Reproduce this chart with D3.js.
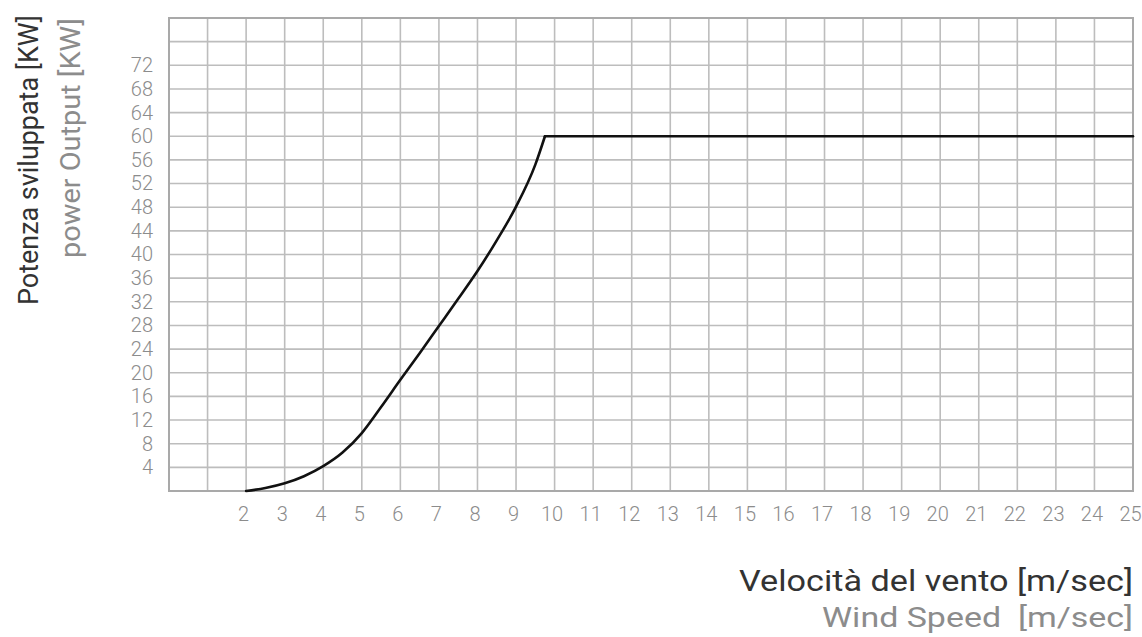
<!DOCTYPE html>
<html>
<head>
<meta charset="utf-8">
<script src="https://cdn.jsdelivr.net/npm/d3@7"></script>
<style>
  html, body { margin: 0; padding: 0; background: #ffffff; }
  svg { display: block; }
</style>
</head>
<body>
<svg id="chart" width="1142" height="637"></svg>
<script>
// ---- data ----
const windSpeed = [2, 2.5, 3, 3.5, 4, 4.5, 5, 5.5, 6, 6.5, 7, 7.5, 8, 8.5, 9, 9.5, 9.75, 25];
const power     = [0, 0.5, 1.3, 2.5, 4.2, 6.5, 9.8, 14.2, 18.8, 23.3, 27.9, 32.5, 37.2, 42.4, 48.1, 55.2, 60, 60];
const xTickLabels = [2,3,4,5,6,7,8,9,10,11,12,13,14,15,16,17,18,19,20,21,22,23,24,25];
const yTickLabels = [4,8,12,16,20,24,28,32,36,40,44,48,52,56,60,64,68,72];
const xGrid = d3.range(0, 26, 1);
const yGrid = d3.range(0, 81, 4);
const yTitle = "Potenza sviluppata [KW]";
const yTitle2 = "power Output [KW]";
const xTitle = "Velocità del vento [m/sec]";
const xTitle2 = "Wind Speed  [m/sec]";

// ---- layout ----
const L = 169, R = 1133, T = 18, B = 491;
const svg = d3.select("#chart");

const x = d3.scaleLinear().domain([0, 25]).range([L, R]);
const y = d3.scaleLinear().domain([0, 80]).range([B, T]);

const gridColor = "#bdbdbd";
const tickColor = "#8c8c8c";
const darkColor = "#333333";
const font = "Roboto, 'Open Sans', sans-serif";

// grid
const grid = svg.append("g");
grid.selectAll("line.v").data(xGrid).join("line")
  .attr("x1", d => x(d)).attr("x2", d => x(d))
  .attr("y1", T).attr("y2", B)
  .attr("stroke", gridColor).attr("stroke-width", 1.6);
grid.selectAll("line.h").data(yGrid).join("line")
  .attr("y1", d => y(d)).attr("y2", d => y(d))
  .attr("x1", L).attr("x2", R)
  .attr("stroke", gridColor).attr("stroke-width", 1.6);
// border
svg.append("rect").attr("x", L).attr("y", T).attr("width", R - L).attr("height", B - T)
  .attr("fill", "none").attr("stroke", "#a9a9a9").attr("stroke-width", 2);

// x axis labels
const xAxis = d3.axisBottom(x).tickValues(xTickLabels).tickSize(0).tickPadding(0)
  .tickFormat(d3.format("d"));
const gx = svg.append("g").attr("transform", `translate(0,${B})`).call(xAxis);
gx.select(".domain").remove();
gx.selectAll("text")
  .attr("y", 30).attr("dy", 0).attr("dx", -3)
  .attr("fill", tickColor)
  .style("font-family", font).style("font-weight", 300).style("font-size", "20px");

// y axis labels
const yAxis = d3.axisLeft(y).tickValues(yTickLabels).tickSize(0).tickPadding(16)
  .tickFormat(d3.format("d"));
const gy = svg.append("g").attr("transform", `translate(${L},0)`).call(yAxis);
gy.select(".domain").remove();
gy.selectAll("text")
  .attr("fill", tickColor)
  .style("font-family", font).style("font-weight", 300).style("font-size", "20px");

// power curve: rising part smoothed, rated-power plateau straight
const pts = windSpeed.map((w, i) => [w, power[i]]);
const ratedIdx = power.indexOf(d3.max(power));
const rising = pts.slice(0, ratedIdx + 1);
const plateau = pts.slice(ratedIdx);
const curveLine = d3.line().x(d => x(d[0])).y(d => y(d[1])).curve(d3.curveMonotoneX);
const flatLine = d3.line().x(d => x(d[0])).y(d => y(d[1]));
const lineG = svg.append("g")
  .attr("fill", "none").attr("stroke", "#111111").attr("stroke-width", 2.6)
  .attr("stroke-linejoin", "round").attr("stroke-linecap", "round");
lineG.append("path").datum(rising).attr("d", curveLine);
lineG.append("path").datum(plateau).attr("d", flatLine);

// y titles
svg.append("text")
  .attr("transform", `translate(38,160) rotate(-90)`)
  .attr("text-anchor", "middle")
  .attr("fill", darkColor)
  .style("font-family", font).style("font-weight", 400).style("font-size", "27px")
  .attr("textLength", 290).attr("lengthAdjust", "spacingAndGlyphs")
  .text(yTitle);
svg.append("text")
  .attr("transform", `translate(80,138) rotate(-90)`)
  .attr("text-anchor", "middle")
  .attr("fill", tickColor)
  .style("font-family", font).style("font-weight", 400).style("font-size", "27px")
  .attr("textLength", 240).attr("lengthAdjust", "spacingAndGlyphs")
  .text(yTitle2);

// x titles
svg.append("text")
  .attr("x", R).attr("y", 591)
  .attr("text-anchor", "end")
  .attr("fill", darkColor)
  .style("font-family", font).style("font-weight", 400).style("font-size", "29px")
  .attr("textLength", 394).attr("lengthAdjust", "spacingAndGlyphs")
  .text(xTitle);
svg.append("text")
  .attr("x", R).attr("y", 627)
  .attr("text-anchor", "end")
  .attr("fill", tickColor)
  .style("font-family", font).style("font-weight", 400).style("font-size", "28px")
  .style("white-space", "pre")
  .attr("textLength", 311).attr("lengthAdjust", "spacingAndGlyphs")
  .text(xTitle2);
</script>
</body>
</html>
